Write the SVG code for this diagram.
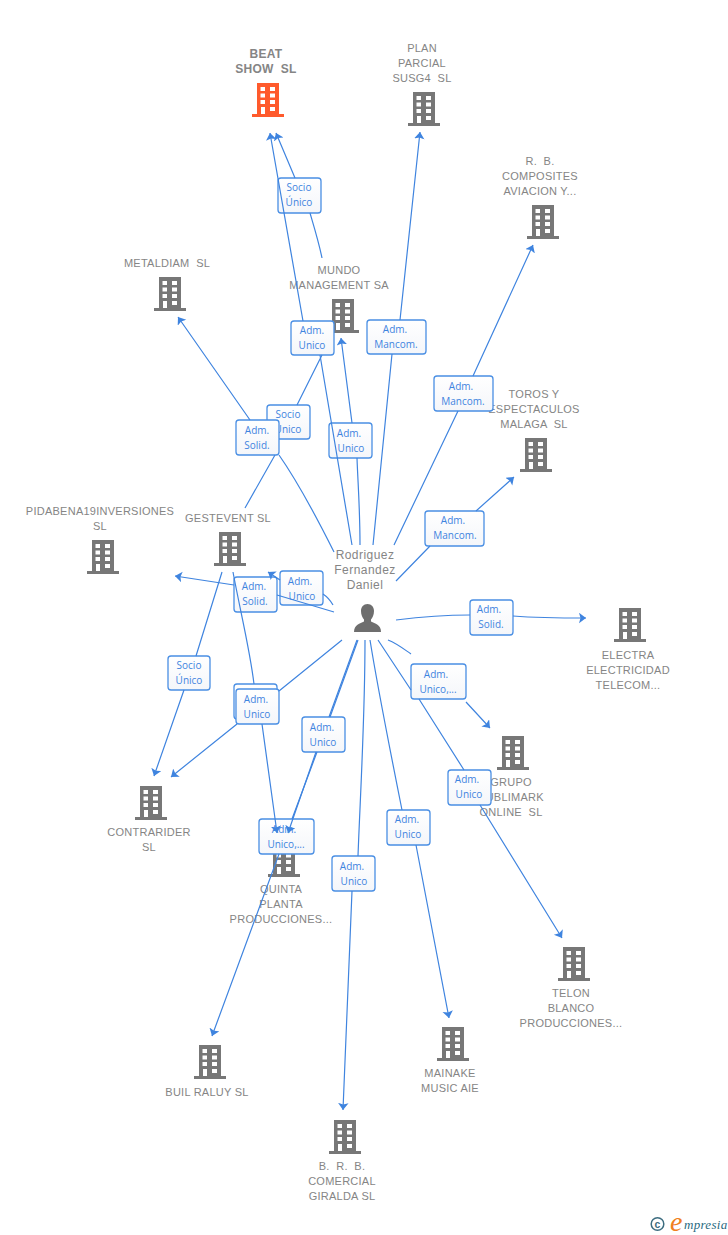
<svg xmlns="http://www.w3.org/2000/svg" width="728" height="1235" viewBox="0 0 728 1235">
<style>
text{white-space:pre}
.n{font:11px "Liberation Sans",Arial,sans-serif;fill:#858585;text-anchor:middle;letter-spacing:.25px}
.b{font-weight:bold;font-size:12px}
.p{font-size:12px;letter-spacing:.45px}
.l{font:10px "Open Sans",sans-serif;fill:#3f84df;text-anchor:middle}
.box{fill:url(#g);stroke:#4a8fe4;stroke-width:1.3}
.c{fill:none;stroke:#3f84df;stroke-width:1.2;marker-end:url(#a)}
.c0{fill:none;stroke:#3f84df;stroke-width:1.2}
</style>
<defs>
<linearGradient id="g" x1="0" y1="0" x2="0" y2="1"><stop offset="0" stop-color="#fff"/><stop offset="1" stop-color="#f4f6fa"/></linearGradient>
<marker id="a" markerUnits="userSpaceOnUse" markerWidth="10" markerHeight="12" refX="7" refY="5.250" orient="auto"><path d="M0 0L7 5.250L0 10.500L1.500 5.250Z" fill="#3f84df"/></marker>
<symbol id="bld" width="32" height="34" viewBox="0 0 32 34" overflow="visible">
<path fill-rule="evenodd" d="M5 0H27V31H32V34H0V31H5ZM8.500 4V8H13V4ZM18 4V8H23V4ZM8.500 10.500V14.500H13V10.500ZM18 10.500V14.500H23V10.500ZM8.500 17V21H13V17ZM18 17V21H23V17ZM9 24V31H13V24ZM18 24V28H23V24Z"/>
</symbol>
</defs>
<rect width="728" height="1235" fill="#fff"/>

<g id="node-beat" fill="#ff5a2c"><use href="#bld" x="252" y="83"/><text class="n b" x="266" y="58">BEAT</text><text class="n b" x="266" y="73">SHOW  SL</text></g>
<g id="node-plan" fill="#777"><use href="#bld" x="408" y="92"/><text class="n" x="422" y="52">PLAN</text><text class="n" x="422" y="67">PARCIAL</text><text class="n" x="422" y="82">SUSG4  SL</text></g>
<g id="node-rb" fill="#777"><use href="#bld" x="527" y="205"/><text class="n" x="540" y="165">R.  B.</text><text class="n" x="540" y="180">COMPOSITES</text><text class="n" x="540" y="195">AVIACION Y...</text></g>
<g id="node-metaldiam" fill="#777"><use href="#bld" x="154" y="277"/><text class="n" x="167" y="267">METALDIAM  SL</text></g>
<g id="node-mundo" fill="#777"><use href="#bld" x="327" y="299"/><text class="n" x="339" y="274">MUNDO</text><text class="n" x="339" y="289">MANAGEMENT SA</text></g>
<g id="node-toros" fill="#777"><use href="#bld" x="520" y="438"/><text class="n" x="534" y="398">TOROS Y</text><text class="n" x="534" y="413">ESPECTACULOS</text><text class="n" x="534" y="428">MALAGA  SL</text></g>
<g id="node-pidabena" fill="#777"><use href="#bld" x="87" y="540"/><text class="n" x="100" y="515">PIDABENA19INVERSIONES</text><text class="n" x="100" y="530">SL</text></g>
<g id="node-gestevent" fill="#777"><use href="#bld" x="214" y="532"/><text class="n" x="228" y="522">GESTEVENT SL</text></g>
<g id="node-electra" fill="#777"><use href="#bld" x="614" y="608"/><text class="n" x="628" y="659">ELECTRA</text><text class="n" x="628" y="674">ELECTRICIDAD</text><text class="n" x="628" y="689">TELECOM...</text></g>
<g id="node-grupo" fill="#777"><use href="#bld" x="497" y="736"/><text class="n" x="511" y="786">GRUPO</text><text class="n" x="511" y="801">PUBLIMARK</text><text class="n" x="511" y="816">ONLINE  SL</text></g>
<g id="node-contrarider" fill="#777"><use href="#bld" x="135" y="786"/><text class="n" x="149" y="836">CONTRARIDER</text><text class="n" x="149" y="851">SL</text></g>
<g id="node-quinta" fill="#777"><use href="#bld" x="268" y="843"/><text class="n" x="281" y="893">QUINTA</text><text class="n" x="281" y="908">PLANTA</text><text class="n" x="281" y="923">PRODUCCIONES...</text></g>
<g id="node-telon" fill="#777"><use href="#bld" x="558" y="947"/><text class="n" x="571" y="997">TELON</text><text class="n" x="571" y="1012">BLANCO</text><text class="n" x="571" y="1027">PRODUCCIONES...</text></g>
<g id="node-mainake" fill="#777"><use href="#bld" x="437" y="1027"/><text class="n" x="450" y="1077">MAINAKE</text><text class="n" x="450" y="1092">MUSIC AIE</text></g>
<g id="node-buil" fill="#777"><use href="#bld" x="194" y="1045"/><text class="n" x="207" y="1096">BUIL RALUY SL</text></g>
<g id="node-brb" fill="#777"><use href="#bld" x="329" y="1120"/><text class="n" x="342" y="1170">B.  R.  B.</text><text class="n" x="342" y="1185">COMERCIAL</text><text class="n" x="342" y="1200">GIRALDA SL</text></g>
<g id="node-person"><text class="n p" x="365" y="559">Rodriguez</text><text class="n p" x="365" y="574">Fernandez</text><text class="n p" x="365" y="589">Daniel</text>
<path fill="#6e6e6e" d="M367.500 604C371.500 604 374 607 374 611C374 615 372.500 617.500 371 619.500V621.500C375 623.500 381 624.500 381 632H354C354 624.500 360 623.500 364 621.500V619.500C362.500 617.500 361 615 361 611C361 607 363.500 604 367.500 604Z"/></g>

<g id="labels">
<g><rect class="box" x="278" y="178" width="43" height="35" rx="3"/><text class="l" x="299" y="191">Socio</text><text class="l" x="299" y="206">Único</text></g>
<g><rect class="box" x="267" y="405" width="43" height="34" rx="3"/><text class="l" x="288" y="418">Socio</text><text class="l" x="288" y="433">Unico</text></g>
<g><rect class="box" x="291" y="321" width="43" height="34" rx="3"/><text class="l" x="312" y="334">Adm.</text><text class="l" x="312" y="349">Unico</text></g>
<g><rect class="box" x="367" y="320" width="59" height="34" rx="3"/><text class="l" x="395" y="333">Adm.</text><text class="l" x="396" y="348">Mancom.</text></g>
<g><rect class="box" x="434" y="376" width="59" height="35" rx="3"/><text class="l" x="461" y="390">Adm.</text><text class="l" x="463" y="405">Mancom.</text></g>
<g><rect class="box" x="236" y="420" width="43" height="35" rx="3"/><text class="l" x="257" y="434">Adm.</text><text class="l" x="257" y="449">Solid.</text></g>
<g><rect class="box" x="329" y="423" width="43" height="35" rx="3"/><text class="l" x="349" y="437">Adm.</text><text class="l" x="351" y="452">Unico</text></g>
<g><rect class="box" x="425" y="511" width="59" height="35" rx="3"/><text class="l" x="453" y="524">Adm.</text><text class="l" x="455" y="539">Mancom.</text></g>
<g><rect class="box" x="280" y="571" width="43" height="34" rx="3"/><text class="l" x="300" y="585">Adm.</text><text class="l" x="302" y="600">Unico</text></g>
<g><rect class="box" x="234" y="577" width="43" height="35" rx="3"/><text class="l" x="254" y="590">Adm.</text><text class="l" x="255" y="605">Solid.</text></g>
<g><rect class="box" x="470" y="600" width="43" height="35" rx="3"/><text class="l" x="489" y="613">Adm.</text><text class="l" x="491" y="628">Solid.</text></g>
<g><rect class="box" x="168" y="656" width="42" height="34" rx="3"/><text class="l" x="189" y="669">Socio</text><text class="l" x="189" y="684">Único</text></g>
<g><rect class="box" x="411" y="664" width="55" height="35" rx="3"/><text class="l" x="436" y="678">Adm.</text><text class="l" x="438" y="693">Unico,...</text></g>
<g><rect class="box" x="234" y="684" width="43" height="35" rx="3"/></g>
<g><rect class="box" x="236" y="689" width="43" height="35" rx="3"/><text class="l" x="256" y="703">Adm.</text><text class="l" x="257" y="718">Unico</text></g>
<g><rect class="box" x="302" y="717" width="43" height="35" rx="3"/><text class="l" x="322" y="731">Adm.</text><text class="l" x="323" y="746">Unico</text></g>
<g><rect class="box" x="448" y="770" width="43" height="35" rx="3"/><text class="l" x="467" y="783">Adm.</text><text class="l" x="469" y="798">Unico</text></g>
<g><rect class="box" x="387" y="810" width="43" height="35" rx="3"/><text class="l" x="407" y="823">Adm.</text><text class="l" x="408" y="838">Unico</text></g>
<g><rect class="box" x="259" y="819" width="55" height="35" rx="3"/><text class="l" x="284" y="833">Adm.</text><text class="l" x="286" y="848">Unico,...</text></g>
<g><rect class="box" x="332" y="856" width="43" height="35" rx="3"/><text class="l" x="352" y="870">Adm.</text><text class="l" x="354" y="885">Unico</text></g>
</g>

<g id="connectors">
<path class="c" d="M352 545L320 355M303 321L270 133"/>
<path class="c" d="M322 258C319 243 315 230 310 213M295 178L276 133"/>
<path class="c" d="M373 545L392 354M400 320L420 132"/>
<path class="c" d="M394 545L458 411M473 376L533 245"/>
<path class="c" d="M334 552C318 520 300 485 279 455M250 420L178 317"/>
<path class="c0" d="M245 508L275 455M297 405L322 355"/>
<path class="c" d="M360 545C360 510 358 485 357 458M352 423L341 338"/>
<path class="c" d="M396 581L430 546M476 511L514 477"/>
<path class="c" d="M334 612L277 595M234 585L175 576"/>
<path class="c" d="M333 605C329 598 326 596 323 594M280 580L268 572"/>
<path class="c" d="M396 620C420 617 445 615 470 615M513 616C540 618 560 618 586 618"/>
<path class="c" d="M388 640C398 644 405 650 411 654M466 702L490 728"/>
<path class="c" d="M378 640L411 690M419 699L464 770M480 805L562 938"/>
<path class="c" d="M370 640C378 690 390 750 402 810M416 845L449 1018"/>
<path class="c" d="M365 640C365 720 360 800 358 856M352 891L343 1110"/>
<path class="c" d="M358 640L330 717M317 752L292 819M279 854L212 1036"/>
<path class="c" d="M357 640L329 717M316 752L288 833"/>
<path class="c" d="M342 640L279 691M237 724L171 777"/>
<path class="c" d="M222 572L196 656M184 690L154 776"/>
<path class="c" d="M233 572C240 610 250 650 254 684M262 724L277 833"/>
</g>

<g id="logo">
<circle cx="657.500" cy="1224" r="6.300" fill="none" stroke="#3d6d80" stroke-width="1.500"/>
<text x="657.500" y="1227.500" font-family="Liberation Sans,sans-serif" font-size="10.500" font-weight="bold" fill="#3d6d80" text-anchor="middle">c</text>
<text x="670" y="1231" font-family="Liberation Serif,serif" font-style="italic" font-size="28" fill="#f08020">e</text>
<text x="684" y="1229" font-family="Liberation Serif,serif" font-style="italic" font-size="13" letter-spacing=".3" fill="#2a6a80">mpresia</text>
</g>
</svg>
